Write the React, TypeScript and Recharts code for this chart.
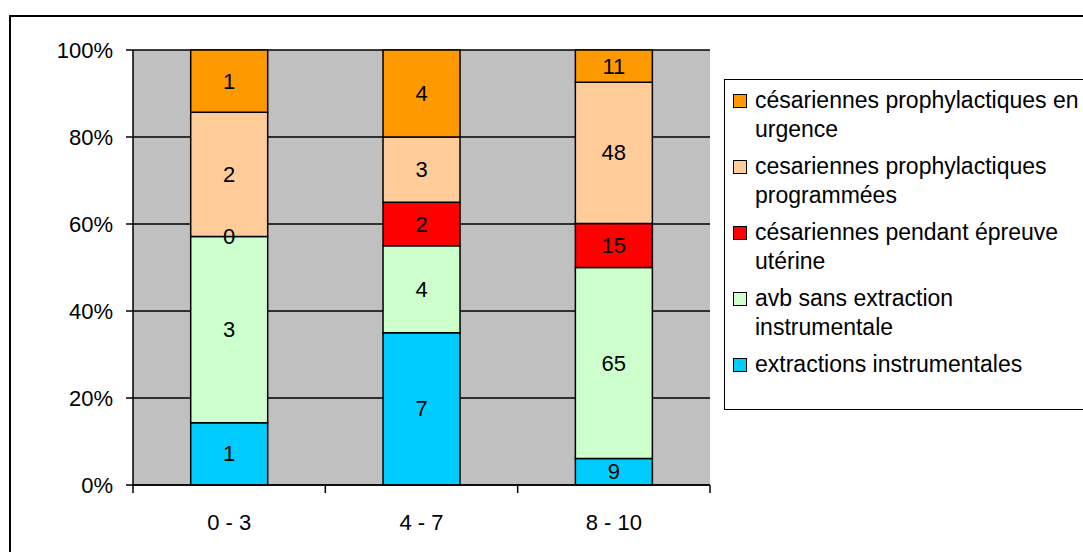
import { BarChart, Bar, XAxis, YAxis, CartesianGrid, Legend, LabelList } from 'recharts';

const FONT = "'Liberation Sans', Arial, sans-serif";

// counts per age group (bars are stacked to 100%)
const categories = ['0 - 3', '4 - 7', '8 - 10'];
const extractions = [1, 7, 9];
const avbSans = [3, 4, 65];
const pendantEpreuve = [0, 2, 15];
const programmees = [2, 3, 48];
const urgence = [1, 4, 11];
const yTicks = [0, 0.2, 0.4, 0.6, 0.8, 1];

const series = [
  { key: 'extractions', name: 'extractions instrumentales', color: '#00CCFF', values: extractions },
  { key: 'avbSans', name: 'avb sans extraction instrumentale', color: '#CCFFCC', values: avbSans },
  { key: 'pendantEpreuve', name: 'césariennes pendant épreuve utérine', color: '#FF0000', values: pendantEpreuve },
  { key: 'programmees', name: 'cesariennes prophylactiques programmées', color: '#FFCC99', values: programmees },
  { key: 'urgence', name: 'césariennes prophylactiques en urgence', color: '#FF9900', values: urgence },
];

const data = categories.map((cat, i) => {
  const row: Record<string, string | number> = { cat };
  series.forEach((s) => {
    row[s.key] = s.values[i];
  });
  return row;
});

const W = 1083;
const H = 552;
const PLOT_LEFT = 133;
const PLOT_RIGHT = 710;
const PLOT_TOP = 50;
const PLOT_BOTTOM = 485;
const Y_AXIS_W = 80;
const X_AXIS_H = 60;

function CategoryTick(props: any) {
  const { x, y, payload, index } = props;
  const half =
    payload && typeof payload.offset === 'number' && payload.offset > 0
      ? payload.offset
      : (PLOT_RIGHT - PLOT_LEFT) / categories.length / 2;
  const last = index === categories.length - 1;
  return (
    <g>
      <line x1={x - half} x2={x - half} y1={y} y2={y + 8} stroke="#000" strokeWidth={1.5} />
      {last && <line x1={x + half} x2={x + half} y1={y} y2={y + 8} stroke="#000" strokeWidth={1.5} />}
      <text x={x} y={y + 37} textAnchor="middle" dominantBaseline="central" fill="#000" fontSize={22} fontFamily={FONT}>
        {payload.value}
      </text>
    </g>
  );
}

// zero-height segments get no label of their own, so the segment above prints it on its lower edge
function makeLabel(seriesIndex: number) {
  return (props: any) => {
    const { x, y, width, height, value, index } = props;
    const below = seriesIndex > 0 ? series[seriesIndex - 1].values[index] : null;
    const cx = Number(x) + Number(width) / 2;
    return (
      <g>
        {value !== 0 && (
          <text x={cx} y={Number(y) + Number(height) / 2} textAnchor="middle" dominantBaseline="central" fill="#000" fontSize={22} fontFamily={FONT}>
            {value}
          </text>
        )}
        {below === 0 && (
          <text x={cx} y={Number(y) + Number(height)} textAnchor="middle" dominantBaseline="central" fill="#000" fontSize={22} fontFamily={FONT}>
            {below}
          </text>
        )}
      </g>
    );
  };
}

function LegendBox() {
  const items = [...series].reverse();
  return (
    <div
      style={{
        boxSizing: 'border-box',
        width: 400,
        height: 331,
        border: '1.5px solid #000',
        background: '#fff',
        padding: '6px 0 0 8px',
        fontFamily: FONT,
        fontSize: 23,
        lineHeight: '29px',
        color: '#000',
      }}
    >
      {items.map((s) => (
        <div key={s.key} style={{ display: 'flex', alignItems: 'flex-start', marginBottom: 8 }}>
          <span
            style={{
              display: 'inline-block',
              width: 12,
              height: 12,
              marginTop: 8,
              marginRight: 8,
              background: s.color,
              border: '1px solid #000',
              flexShrink: 0,
            }}
          />
          <span style={{ width: 330 }}>{s.name}</span>
        </div>
      ))}
    </div>
  );
}

export default function App() {
  return (
    <div style={{ position: 'fixed', left: 0, top: 0, width: W, height: H, background: '#fff', overflow: 'hidden' }}>
      <div
        style={{
          position: 'absolute',
          left: 9,
          top: 15,
          width: 1100,
          height: 600,
          border: '2px solid #000',
          boxSizing: 'border-box',
        }}
      />
      <div style={{ position: 'absolute', left: 0, top: 0 }}>
        <BarChart
          width={W}
          height={H}
          data={data}
          stackOffset="expand"
          barCategoryGap="30%"
          margin={{
            top: PLOT_TOP,
            right: W - PLOT_RIGHT,
            bottom: H - PLOT_BOTTOM - X_AXIS_H,
            left: PLOT_LEFT - Y_AXIS_W,
          }}
        >
          <CartesianGrid vertical={false} stroke="#000" strokeWidth={1.5} fill="#C0C0C0" fillOpacity={1} />
          <XAxis
            dataKey="cat"
            height={X_AXIS_H}
            interval={0}
            tickLine={false}
            tickSize={0}
            tickMargin={0}
            axisLine={{ stroke: '#000', strokeWidth: 1.5 }}
            tick={<CategoryTick />}
          />
          <YAxis
            type="number"
            domain={[0, 1]}
            ticks={yTicks}
            width={Y_AXIS_W}
            tickSize={7}
            tickMargin={13}
            tickFormatter={(v: number) => `${Math.round(v * 100)}%`}
            tick={{ fill: '#000', fontSize: 22, fontFamily: FONT }}
            tickLine={{ stroke: '#000', strokeWidth: 1.5 }}
            axisLine={{ stroke: '#000', strokeWidth: 1.5 }}
          />
          <YAxis
            yAxisId="edge"
            orientation="right"
            width={0}
            tick={false}
            tickLine={false}
            axisLine={{ stroke: '#808080', strokeWidth: 1.5 }}
          />
          {series.map((s, si) => (
            <Bar
              key={s.key}
              dataKey={s.key}
              name={s.name}
              stackId="a"
              fill={s.color}
              stroke="#000"
              strokeWidth={1.5}
              isAnimationActive={false}
            >
              <LabelList dataKey={s.key} content={makeLabel(si)} />
            </Bar>
          ))}
          <Legend
            layout="horizontal"
            verticalAlign="middle"
            align="center"
            wrapperStyle={{ left: 724, top: 79, width: 400, height: 331 }}
            content={() => <LegendBox />}
          />
        </BarChart>
      </div>
    </div>
  );
}
